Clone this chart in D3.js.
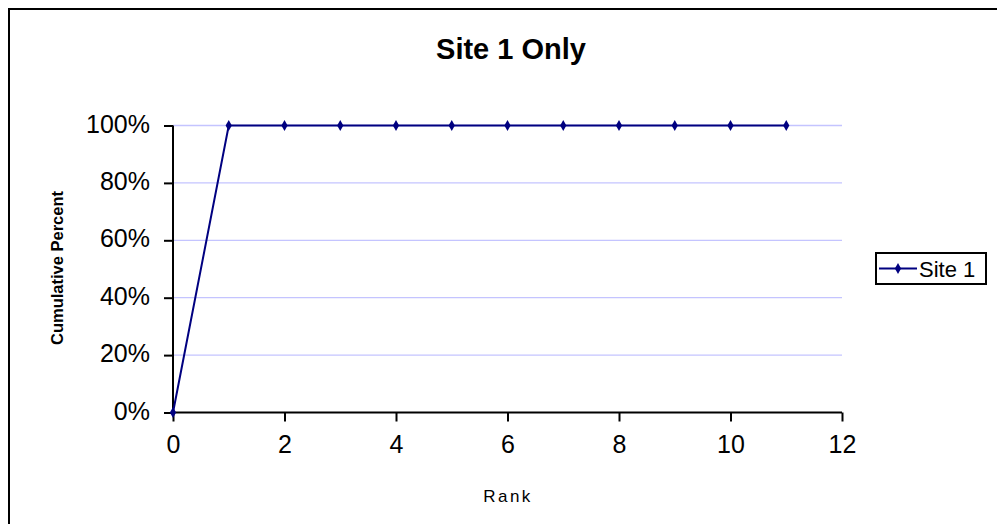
<!DOCTYPE html>
<html><head><meta charset="utf-8">
<script src="https://cdn.jsdelivr.net/npm/d3@7"></script>
<style>body{margin:0;background:#fff}svg{display:block;font-family:"Liberation Sans",Arial,sans-serif}</style>
</head><body><svg id="c" width="997" height="524"></svg>
<script>
const ranks = [0,1,2,3,4,5,6,7,8,9,10,11];
const site1 = [0,1,1,1,1,1,1,1,1,1,1,1];
const xTicks = [0,2,4,6,8,10,12];
const yTicks = [0,0.2,0.4,0.6,0.8,1.0];
const seriesName = "Site 1";

const FONT = "Liberation Sans, Arial, sans-serif";
const svg = d3.select("#c");
svg.append("rect").attr("x",9).attr("y",9).attr("width",1000).attr("height",530)
  .attr("fill","#fff").attr("stroke","#000").attr("stroke-width",2);

const x = d3.scaleLinear().domain([0,12]).range([173,842]);
const y = d3.scaleLinear().domain([0,1]).range([412.5,125.5]);

// gridlines
svg.append("g").selectAll("line").data(yTicks.slice(1)).join("line")
  .attr("x1",x(0)).attr("x2",x(12)).attr("y1",d=>y(d)).attr("y2",d=>y(d))
  .attr("stroke","#c4c4ff").attr("stroke-width",1.3);

const ya = svg.append("g").attr("transform",`translate(${x(0)},0)`)
  .call(d3.axisLeft(y).tickValues(yTicks).tickFormat(d3.format(".0%")).tickSize(9).tickPadding(14));
ya.select(".domain").attr("stroke","#000").attr("stroke-width",2).attr("d",`M0,${y(1)}V${y(0)}`);
ya.selectAll(".tick line").attr("stroke","#000").attr("stroke-width",2);
ya.selectAll(".tick text").attr("font-size",25).attr("fill","#000").attr("font-family",FONT).attr("dy","0.26em");

const xa = svg.append("g").attr("transform",`translate(0,${y(0)})`)
  .call(d3.axisBottom(x).tickValues(xTicks).tickSize(9).tickPadding(14));
xa.select(".domain").attr("stroke","#000").attr("stroke-width",2).attr("d",`M${x(0)},0H${x(12)}`);
xa.selectAll(".tick line").attr("stroke","#000").attr("stroke-width",2);
xa.selectAll(".tick text").attr("font-size",25).attr("fill","#000").attr("font-family",FONT);

const pts = ranks.map((r,i)=>({r, v:site1[i]}));
svg.append("path").datum(pts)
  .attr("d", d3.line().x(d=>x(d.r)).y(d=>y(d.v)))
  .attr("fill","none").attr("stroke","#000080").attr("stroke-width",2);
const diamond = d3.symbol().type(d3.symbolDiamond).size(34);
svg.append("g").selectAll("path").data(pts).join("path")
  .attr("transform",d=>`translate(${x(d.r)},${y(d.v)})`)
  .attr("d",diamond).attr("fill","#000080");

svg.append("text").attr("x",511).attr("y",59).attr("text-anchor","middle")
  .attr("font-size",29).attr("font-weight","bold").text("Site 1 Only");
svg.append("text").attr("transform","translate(63,268) rotate(-90)").attr("text-anchor","middle")
  .attr("font-size",16.5).attr("font-weight","bold").text("Cumulative Percent");
svg.append("text").attr("x",508).attr("y",502).attr("text-anchor","middle")
  .attr("font-size",17).attr("letter-spacing",2.5).text("Rank");

// legend
const lg = svg.append("g");
lg.append("rect").attr("x",876).attr("y",253).attr("width",110).attr("height",31)
  .attr("fill","#fff").attr("stroke","#000").attr("stroke-width",2);
lg.append("line").attr("x1",879).attr("x2",917).attr("y1",268.5).attr("y2",268.5)
  .attr("stroke","#000080").attr("stroke-width",2);
lg.append("path").attr("transform","translate(898,268.5)").attr("d",diamond).attr("fill","#000080");
lg.append("text").attr("x",919).attr("y",276.5).attr("font-size",22).text(seriesName);
</script></body></html>
